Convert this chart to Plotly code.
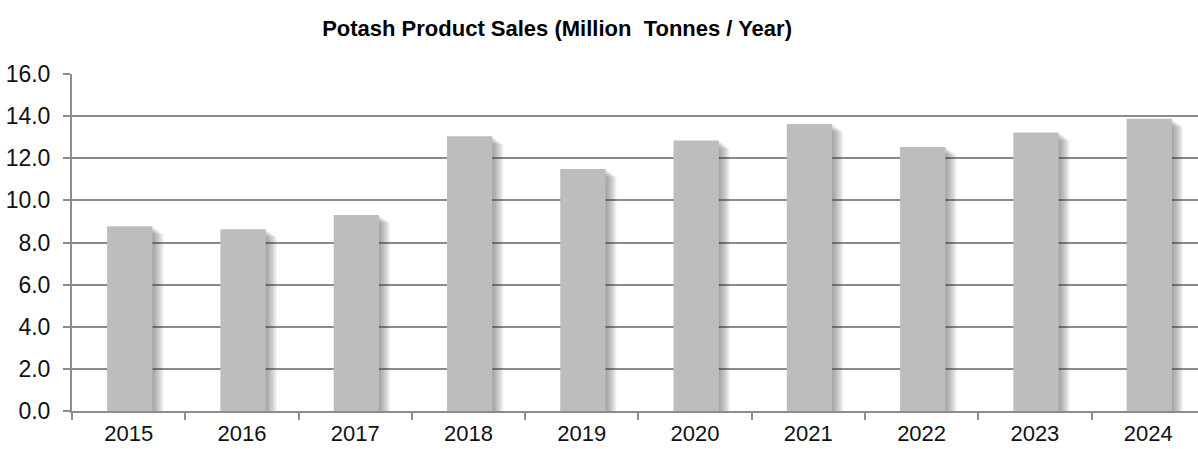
import plotly.graph_objects as go

# Annual potash product sales, million tonnes
years = ["2015", "2016", "2017", "2018", "2019", "2020", "2021", "2022", "2023", "2024"]
sales = [8.77, 8.63, 9.31, 13.04, 11.49, 12.84, 13.63, 12.54, 13.22, 13.87]

y_ticks = [0, 2, 4, 6, 8, 10, 12, 14, 16]
y_tick_labels = ["0.0", "2.0", "4.0", "6.0", "8.0", "10.0", "12.0", "14.0", "16.0"]

BAR_W = 0.40
BAR_OFF = -0.19

fig = go.Figure()

# Soft drop shadow: stacked translucent copies shifted to the right
for k in range(1, 7):
    fig.add_trace(go.Bar(
        x=years, y=[v - 0.06 * k for v in sales],
        width=BAR_W, offset=BAR_OFF + 0.016 * k,
        marker=dict(color="rgba(60,60,60,0.09)", line=dict(width=0)),
        hoverinfo="skip", showlegend=False,
    ))

fig.add_trace(go.Bar(
    x=years, y=sales,
    width=BAR_W, offset=BAR_OFF,
    marker=dict(color="#bdbdbd", line=dict(width=0)),
    showlegend=False,
))

fig.update_layout(
    width=1198, height=449,
    barmode="overlay",
    paper_bgcolor="white", plot_bgcolor="white",
    margin=dict(l=72, r=0, t=74, b=38, pad=0, autoexpand=False),
    font=dict(family="Liberation Sans, Arial, sans-serif", color="#111111", size=22),
    title=dict(
        text="<b>Potash Product Sales (Million  Tonnes / Year)</b>",
        x=0.465, xanchor="center", y=0.937, yanchor="middle",
        font=dict(size=22, color="#000000"),
    ),
    xaxis=dict(
        range=[-0.5, 9.44],
        showgrid=False,
        showline=True, linecolor="#8c8c8c", linewidth=2,
        ticks="outside", tickson="boundaries", ticklen=7, tickwidth=2, tickcolor="#8c8c8c",
        ticklabelstandoff=2,
        tickfont=dict(size=22, color="#111111"),
    ),
    yaxis=dict(
        range=[0, 16],
        tickvals=y_ticks, ticktext=y_tick_labels,
        showgrid=True, gridcolor="#8a8a8a", gridwidth=2,
        showline=True, linecolor="#8c8c8c", linewidth=2,
        ticks="outside", ticklen=7, tickwidth=2, tickcolor="#8c8c8c",
        ticklabelstandoff=8,
        tickfont=dict(size=23, color="#111111"),
        zeroline=False,
    ),
)

fig.write_html("out.html")
